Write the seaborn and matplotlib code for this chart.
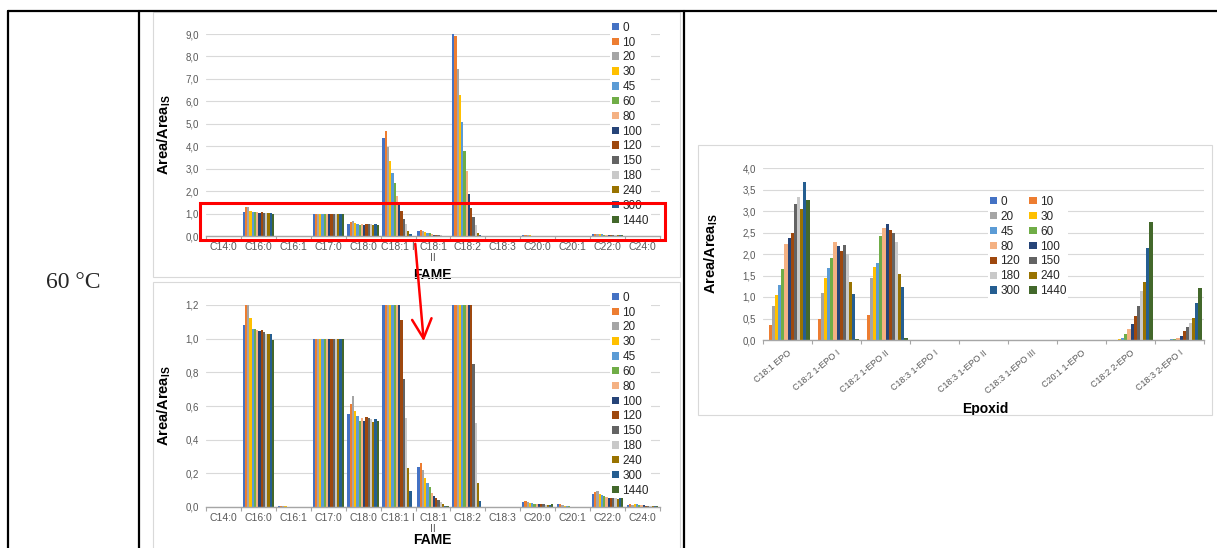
import numpy as np
import pandas as pd
import matplotlib
matplotlib.use('Agg')
import matplotlib.pyplot as plt
import seaborn as sns
from matplotlib.patches import Rectangle, Patch, FancyArrowPatch
from matplotlib.lines import Line2D
from matplotlib.ticker import FuncFormatter

sns.set_theme(style='white')
plt.rcParams['font.family'] = ['Liberation Sans', 'DejaVu Sans']
plt.rcParams['mathtext.fontset'] = 'custom'
plt.rcParams['mathtext.rm'] = 'Liberation Sans'
plt.rcParams['mathtext.bf'] = 'Liberation Sans:bold'

# reaction times (min) = series
times = ['0', '10', '20', '30', '45', '60', '80', '100', '120', '150', '180', '240', '300', '1440']
colors = ['#4472C4', '#ED7D31', '#A5A5A5', '#FFC000', '#5B9BD5', '#70AD47', '#F4B183',
          '#264478', '#9E480E', '#636363', '#C9C9C9', '#997300', '#255E91', '#43682B']

# FAME chart
fame_cats = ['C14:0', 'C16:0', 'C16:1', 'C17:0', 'C18:0', 'C18:1 I', 'C18:1\nII',
             'C18:2', 'C18:3', 'C20:0', 'C20:1', 'C22:0', 'C24:0']
c14_0 = [0] * 14
c16_0 = [1.08, 1.30, 1.27, 1.12, 1.06, 1.06, 1.05, 1.045, 1.05, 1.04, 1.03, 1.025, 1.03, 0.99]
c16_1 = [0.004, 0.005, 0.005, 0.003, 0.002, 0, 0, 0, 0, 0, 0, 0, 0, 0]
c17_0 = [1.0] * 14
c18_0 = [0.555, 0.61, 0.66, 0.57, 0.54, 0.51, 0.53, 0.51, 0.535, 0.53, 0.525, 0.505, 0.525, 0.51]
c18_1_i = [4.35, 4.67, 3.96, 3.33, 2.80, 2.36, 1.80, 1.38, 1.11, 0.76, 0.53, 0.23, 0.095, 0.0]
c18_1_ii = [0.24, 0.26, 0.22, 0.175, 0.145, 0.12, 0.085, 0.065, 0.055, 0.04, 0.03, 0.015, 0.006, 0.003]
c18_2 = [9.0, 8.9, 7.42, 6.3, 5.06, 3.8, 2.9, 1.88, 1.24, 0.85, 0.5, 0.145, 0.035, 0.0]
c18_3 = [0] * 14
c20_0 = [0.028, 0.035, 0.032, 0.025, 0.022, 0.02, 0.018, 0.016, 0.015, 0.015, 0.012, 0.01, 0.012, 0.015]
c20_1 = [0.015, 0.016, 0.012, 0.008, 0.005, 0.003, 0.002, 0, 0, 0, 0, 0, 0, 0]
c22_0 = [0.078, 0.092, 0.095, 0.08, 0.07, 0.065, 0.06, 0.055, 0.058, 0.062, 0.065, 0.05, 0.06, 0.06]
c24_0 = [0.012, 0.015, 0.013, 0.015, 0.015, 0.012, 0.01, 0.01, 0.008, 0.008, 0.008, 0.006, 0.007, 0.006]
fame_vals = [c14_0, c16_0, c16_1, c17_0, c18_0, c18_1_i, c18_1_ii, c18_2, c18_3,
             c20_0, c20_1, c22_0, c24_0]

# epoxide chart
epo_cats = ['C18:1 EPO', 'C18:2 1-EPO I', 'C18:2 1-EPO II', 'C18:3 1-EPO I', 'C18:3 1-EPO II',
            'C18:3 1-EPO III', 'C20:1 1-EPO', 'C18:2 2-EPO', 'C18:3 2-EPO I']
c18_1_epo = [0, 0.36, 0.78, 1.05, 1.27, 1.65, 2.24, 2.37, 2.50, 3.16, 3.33, 3.04, 3.68, 3.25]
c18_2_epo_i = [0, 0.50, 1.09, 1.45, 1.67, 1.91, 2.29, 2.19, 2.08, 2.20, 2.00, 1.36, 1.07, 0.03]
c18_2_epo_ii = [0, 0.59, 1.45, 1.70, 1.79, 2.41, 2.61, 2.70, 2.56, 2.50, 2.28, 1.53, 1.24, 0.05]
c18_3_epo_i = [0] * 14
c18_3_epo_ii = [0] * 14
c18_3_epo_iii = [0] * 14
c20_1_epo = [0] * 14
c18_2_2epo = [0, 0, 0.01, 0.02, 0.05, 0.13, 0.26, 0.37, 0.55, 0.79, 1.13, 1.36, 2.13, 2.74]
c18_3_2epo_i = [0, 0, 0, 0.01, 0.02, 0.03, 0.05, 0.10, 0.20, 0.31, 0.40, 0.52, 0.85, 1.22]
epo_vals = [c18_1_epo, c18_2_epo_i, c18_2_epo_ii, c18_3_epo_i, c18_3_epo_ii,
            c18_3_epo_iii, c20_1_epo, c18_2_2epo, c18_3_2epo_i]

W, H = 1217, 548
fig = plt.figure(figsize=(W / 100, H / 100), dpi=100)


def fx(x):
    return x / W


def fy(y):
    return 1 - y / H


def axes_at(l, t, r, b):
    return fig.add_axes([fx(l), fy(b), (r - l) / W, (b - t) / H])


def long_df(cats, vals):
    rows = []
    for c, v in zip(cats, vals):
        for t, y in zip(times, v):
            rows.append((c, t, y))
    return pd.DataFrame(rows, columns=['cat', 'time', 'val'])


def draw_bars(ax, cats, vals, ymax, ystep):
    df = long_df(cats, vals)
    sns.barplot(data=df, x='cat', y='val', hue='time', order=cats, hue_order=times,
                palette=colors, width=0.9, saturation=1, linewidth=0, errorbar=None,
                legend=False, ax=ax)
    n = len(cats)
    ax.set_xlim(-0.5, n - 0.5)
    ax.set_ylim(0, ymax)
    ax.set_yticks(np.arange(0, ymax + 1e-9, ystep))
    ax.yaxis.set_major_formatter(FuncFormatter(lambda v, p: f'{v:.1f}'.replace('.', ',')))
    ax.grid(axis='y', color='#D9D9D9', lw=0.8)
    ax.grid(axis='x', visible=False)
    ax.set_axisbelow(True)
    for s in ['top', 'right', 'left']:
        ax.spines[s].set_visible(False)
    ax.spines['bottom'].set_color('#A6A6A6')
    ax.spines['bottom'].set_linewidth(1.0)
    ax.set_xticks(np.arange(-0.5, n), minor=True)
    ax.tick_params(axis='x', which='minor', length=3, width=0.8, color='#A6A6A6', bottom=True)
    ax.tick_params(axis='x', which='major', length=0, labelsize=7.5, labelcolor='#595959', pad=4)
    ax.tick_params(axis='y', length=0, labelsize=7, labelcolor='#595959', pad=5)
    ax.set_xlabel('')
    ax.set_ylabel(r'Area/Area$_{\mathbf{IS}}$', fontsize=10.5, fontweight='bold', color='black')


def add_legend(ax, x, y, ncol=1, order=None, spacing=0.3, colspace=1.2):
    handles = [Patch(facecolor=c, edgecolor='none') for c in colors]
    labels = list(times)
    if order is not None:
        handles = [handles[i] for i in order]
        labels = [labels[i] for i in order]
    leg = ax.legend(handles, labels, loc='upper left', bbox_to_anchor=(fx(x), fy(y)),
                    bbox_transform=fig.transFigure, ncol=ncol, frameon=True,
                    fancybox=False, framealpha=1, edgecolor='none', facecolor='white',
                    fontsize=8.5, handlelength=0.6, handleheight=0.6, handletextpad=0.3,
                    labelspacing=spacing, columnspacing=colspace, borderpad=0.15)
    leg.set_zorder(5)
    return leg


# table lines and chart frames
lw_tab = 1.6
for (x0, y0, x1, y1) in [(8, 11, 1217, 11), (8, 11, 8, 548), (139, 11, 139, 548), (684, 11, 684, 548)]:
    fig.add_artist(Line2D([fx(x0), fx(x1)], [fy(y0), fy(y1)], color='black', lw=lw_tab))
for (l, t, r, b) in [(153, 12, 680, 277), (153, 282, 680, 552), (698, 145, 1212, 415)]:
    fig.add_artist(Rectangle((fx(l), fy(b)), (r - l) / W, (b - t) / H, transform=fig.transFigure,
                             fill=False, edgecolor='#D9D9D9', lw=0.8))
fig.text(fx(73), fy(283), '60 °C', ha='center', va='center', fontsize=17,
         family=['Liberation Serif', 'DejaVu Serif'])

# top chart: full scale
ax1 = axes_at(206, 34, 660, 236)
draw_bars(ax1, fame_cats, fame_vals, 9.0, 1.0)
ax1.yaxis.set_label_coords(-0.073, 0.5)
ax1.set_xlabel('FAME', fontsize=10, fontweight='bold', color='black')
ax1.xaxis.set_label_coords(0.498, -0.16)
add_legend(ax1, 604, 14, spacing=0.24)

# bottom chart: zoomed to 1.2
ax2 = axes_at(206, 305, 660, 507)
draw_bars(ax2, fame_cats, fame_vals, 1.2, 0.2)
ax2.yaxis.set_label_coords(-0.073, 0.5)
ax2.set_xlabel('FAME', fontsize=10, fontweight='bold', color='black')
ax2.xaxis.set_label_coords(0.498, -0.13)
add_legend(ax2, 604, 284, spacing=0.24)

# right chart: epoxides
ax3 = axes_at(763, 168, 1204, 340)
draw_bars(ax3, epo_cats, epo_vals, 4.0, 0.5)
for lab in ax3.get_xticklabels():
    lab.set_rotation(40)
    lab.set_ha('right')
    lab.set_rotation_mode('anchor')
    lab.set_fontsize(6.5)
ax3.tick_params(axis='x', which='major', pad=6)
ax3.yaxis.set_label_coords(-0.098, 0.5)
ax3.set_xlabel('Epoxid', fontsize=10, fontweight='bold', color='black')
ax3.xaxis.set_label_coords(0.503, -0.36)
order = [0, 2, 4, 6, 8, 10, 12, 1, 3, 5, 7, 9, 11, 13]
add_legend(ax3, 982, 188, ncol=2, order=order, spacing=0.25, colspace=0.8)

# red highlight box and arrow
fig.add_artist(Rectangle((fx(200), fy(240)), (665 - 200) / W, (240 - 203) / H,
                         transform=fig.transFigure, fill=False, edgecolor='#FF0000', lw=2.2, zorder=10))
fig.add_artist(FancyArrowPatch((fx(415), fy(241)), (fx(424), fy(344)), transform=fig.transFigure,
                               arrowstyle='->,head_length=0.7,head_width=0.35', mutation_scale=20,
                               color='#FF0000', lw=1.8, zorder=10))

fig.savefig('out.png', dpi=100)
